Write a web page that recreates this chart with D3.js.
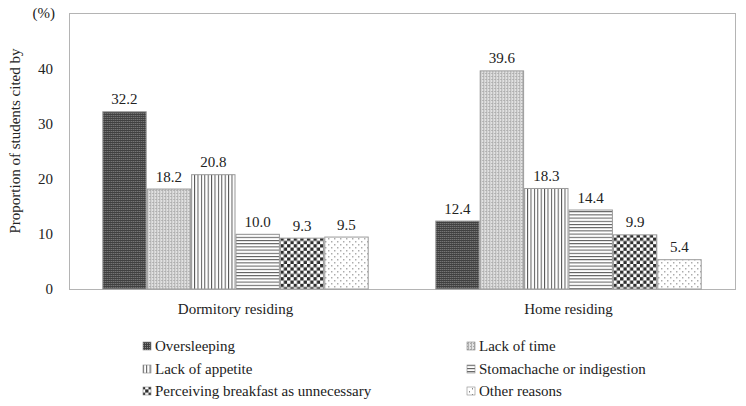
<!DOCTYPE html>
<html><head><meta charset="utf-8">
<script src="https://cdn.jsdelivr.net/npm/d3@7"></script>
<style>body{margin:0;background:#fff;} svg{display:block;} text{font-family:"Liberation Serif","DejaVu Serif",serif;fill:#222;}</style>
</head><body><svg id="c" width="746" height="406"></svg>
<script>
const groups = ["Dormitory residing", "Home residing"];
const reasons = ["Oversleeping", "Lack of time", "Lack of appetite", "Stomachache or indigestion", "Perceiving breakfast as unnecessary", "Other reasons"];
const dormitory = [32.2, 18.2, 20.8, 10.0, 9.3, 9.5];
const home = [12.4, 39.6, 18.3, 14.4, 9.9, 5.4];
const yTicks = [0, 10, 20, 30, 40];
const yLabel = "Proportion of students cited by";
const unitLabel = "(%)";

const svg = d3.select("#c");
const m = {l: 69, r: 735, t: 13, b: 289};
const defs = svg.append("defs");
const FS = "15px";

function pat(id, w, h, draw) {
  const p = defs.append("pattern").attr("id", id).attr("patternUnits", "userSpaceOnUse")
    .attr("width", w).attr("height", h);
  draw(p);
}
// 0 oversleeping: dark dotted
pat("p0", 2, 2, p => {
  p.append("rect").attr("width", 2).attr("height", 2).attr("fill", "#404040");
  p.append("rect").attr("x", 1).attr("y", 1).attr("width", 1).attr("height", 1).attr("fill", "#8a8a8a");
});
// 1 lack of time: light grey fine
pat("p1", 3, 3, p => {
  p.append("rect").attr("width", 3).attr("height", 3).attr("fill", "#e2e2e2");
  p.append("rect").attr("x", 0).attr("y", 0).attr("width", 1).attr("height", 3).attr("fill", "#b0b0b0");
  p.append("rect").attr("x", 2).attr("y", 1).attr("width", 1).attr("height", 1).attr("fill", "#a8a8a8");
});
// 2 vertical lines
pat("p2", 3.4, 4, p => {
  p.append("rect").attr("width", 3.4).attr("height", 4).attr("fill", "#fff");
  p.append("rect").attr("x", 0).attr("width", 1).attr("height", 4).attr("fill", "#555");
});
// 3 horizontal lines
pat("p3", 4, 3.2, p => {
  p.append("rect").attr("width", 4).attr("height", 3.2).attr("fill", "#fff");
  p.append("rect").attr("y", 0).attr("width", 4).attr("height", 1).attr("fill", "#555");
});
// 4 checkerboard
pat("p4", 6.6, 6.6, p => {
  p.append("rect").attr("width", 6.6).attr("height", 6.6).attr("fill", "#fff");
  p.append("rect").attr("width", 3.3).attr("height", 3.3).attr("fill", "#2e2e2e");
  p.append("rect").attr("x", 3.3).attr("y", 3.3).attr("width", 3.3).attr("height", 3.3).attr("fill", "#2e2e2e");
});
// 5 sparse dots
pat("p5", 6, 6, p => {
  p.append("rect").attr("width", 6).attr("height", 6).attr("fill", "#fff");
  p.append("rect").attr("x", 1).attr("y", 1).attr("width", 1).attr("height", 1.5).attr("fill", "#888");
  p.append("rect").attr("x", 4).attr("y", 4).attr("width", 1).attr("height", 1.5).attr("fill", "#888");
});

const x0 = d3.scaleBand().domain(groups).range([m.l, m.r]).paddingInner(0.2).paddingOuter(0.1);
const x1 = d3.scaleBand().domain(reasons).range([0, x0.bandwidth()]);
const y = d3.scaleLinear().domain([0, 50]).range([m.b, m.t]);

// plot border
svg.append("rect").attr("x", m.l + 0.5).attr("y", m.t + 0.5).attr("width", m.r - m.l).attr("height", m.b - m.t)
  .attr("fill", "none").attr("stroke", "#b4b4b4");

// y axis
const yAxis = svg.append("g").attr("transform", `translate(${m.l},0)`)
  .call(d3.axisLeft(y).tickValues(yTicks).tickSize(0).tickPadding(16).tickFormat(d3.format("d")));
yAxis.select(".domain").remove();
yAxis.selectAll("text").style("font-family", '"Liberation Serif",serif').style("font-size", FS).attr("fill", "#222");
svg.append("text").attr("x", 55).attr("y", y(50) + 5).attr("text-anchor", "end").style("font-size", FS).text(unitLabel);

svg.append("text").attr("transform", `translate(20,${(m.t + m.b) / 2 - 10}) rotate(-90)`)
  .attr("text-anchor", "middle").style("font-size", FS).text(yLabel);

// x labels
const xAxis = svg.append("g").attr("transform", `translate(0,${m.b})`)
  .call(d3.axisBottom(x0).tickSize(0).tickPadding(14));
xAxis.select(".domain").attr("stroke", "#b4b4b4");
xAxis.selectAll("text").style("font-family", '"Liberation Serif",serif').style("font-size", FS).attr("fill", "#222");

const data = [dormitory, home];
groups.forEach((g, gi) => {
  const gg = svg.append("g").attr("transform", `translate(${x0(g)},0)`);
  const vals = data[gi].map((v, i) => ({r: reasons[i], v, i}));
  gg.selectAll("rect").data(vals).join("rect")
    .attr("x", d => x1(d.r) + 0.5).attr("y", d => y(d.v) + 0.5)
    .attr("width", x1.bandwidth() - 1).attr("height", d => y(0) - y(d.v) - 0.5)
    .attr("fill", d => `url(#p${d.i})`).attr("stroke", "#9a9a9a").attr("stroke-width", 1);
  gg.selectAll("text.v").data(vals).join("text").attr("class", "v")
    .attr("x", d => x1(d.r) + x1.bandwidth() / 2).attr("y", d => y(d.v) - 7)
    .attr("text-anchor", "middle").style("font-size", FS).text(d => d.v.toFixed(1));
});

// legend
const legX = [143, 467];
const legY = [346, 369, 391];
reasons.forEach((r, i) => {
  const lx = legX[i % 2], ly = legY[Math.floor(i / 2)];
  svg.append("rect").attr("x", lx).attr("y", ly - 4).attr("width", 8).attr("height", 8)
    .attr("fill", `url(#p${i})`).attr("stroke", "#888").attr("stroke-width", 0.6);
  svg.append("text").attr("x", lx + 12).attr("y", ly + 5).style("font-size", FS).text(r);
});
</script></body></html>
